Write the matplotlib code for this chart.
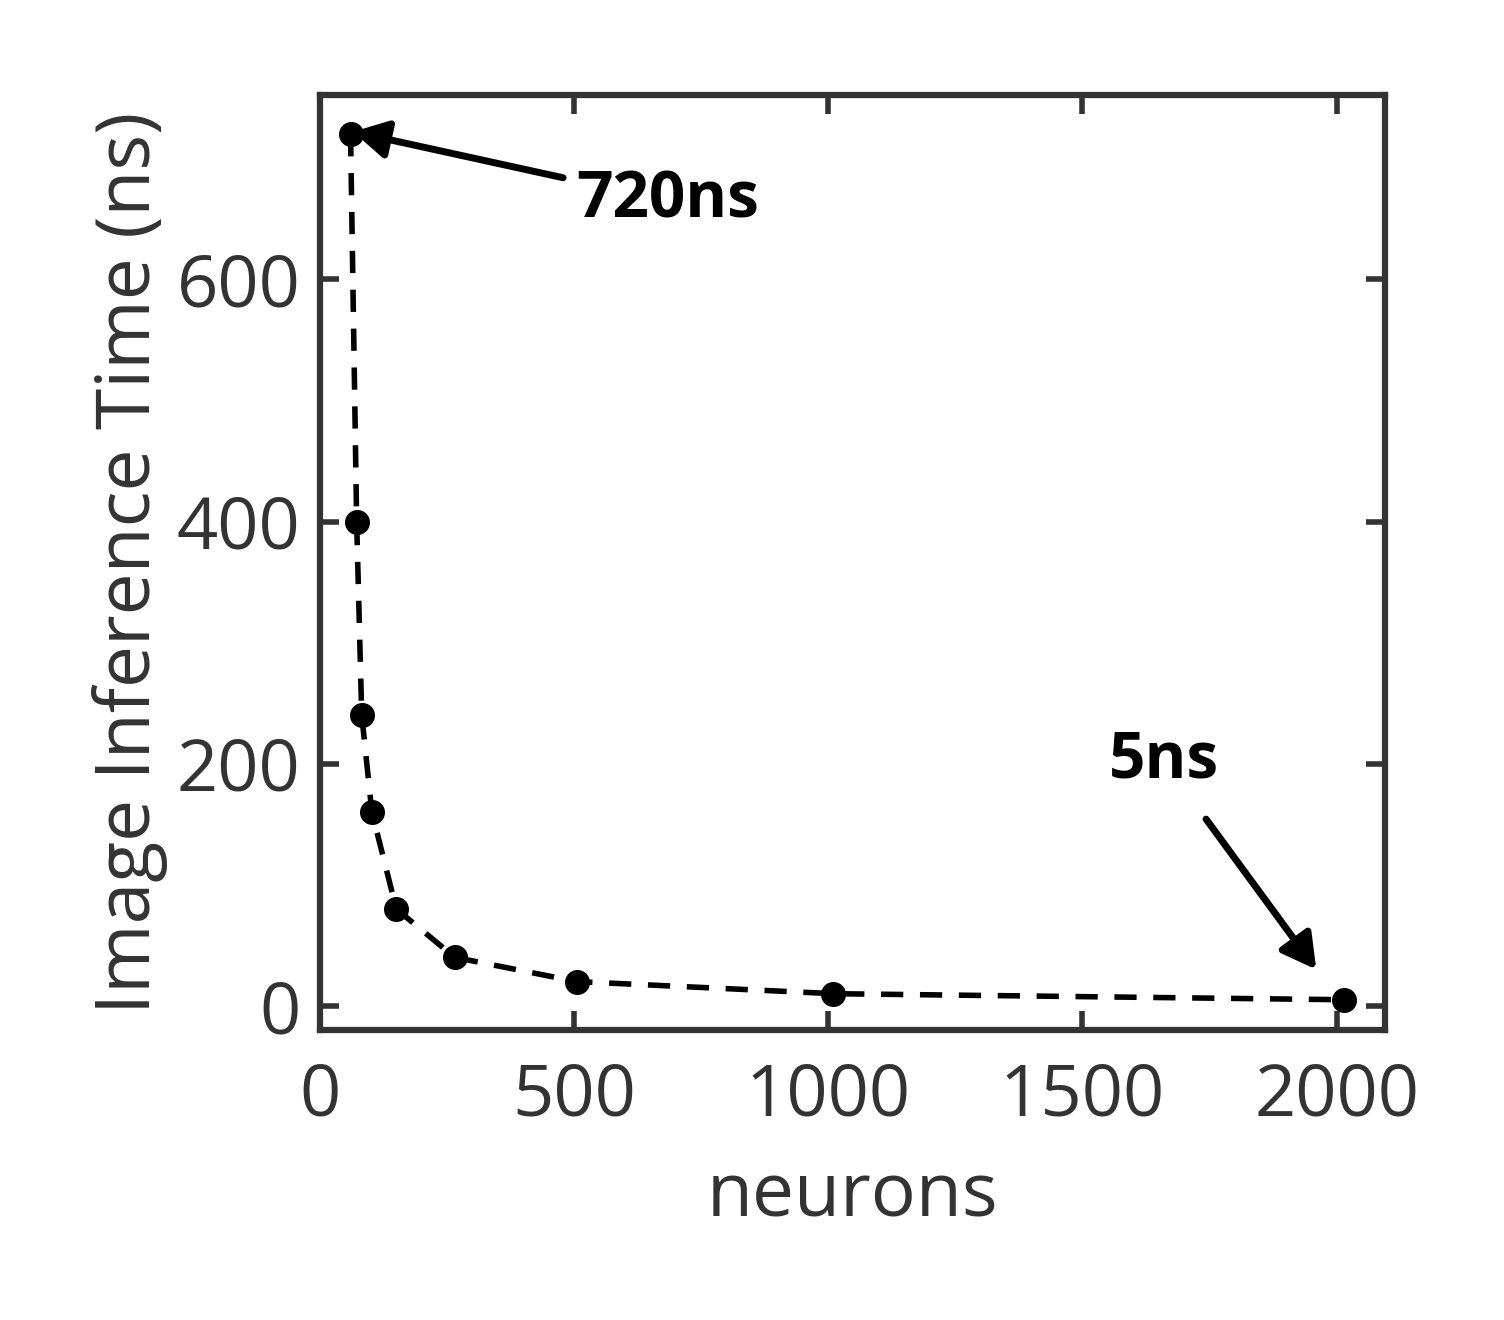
import matplotlib
matplotlib.use("Agg")
import matplotlib.pyplot as plt

neurons = [60, 72, 82, 102, 150, 265, 505, 1010, 2015]
times = [720, 400, 240, 160, 80, 40, 20, 10, 5]
xticks = [0, 500, 1000, 1500, 2000]
yticks = [0, 200, 400, 600]

plt.rcParams['font.family'] = ['Open Sans', 'DejaVu Sans']
fig = plt.figure(figsize=(15.04, 13.2), dpi=100)
ax = fig.add_axes([0.2128, 0.2197, 0.708, 0.708])
ax.plot(neurons, times, 'k--', lw=4, dashes=(4, 3), marker='o', ms=17)
ax.set_xlim(0, 2095)
ax.set_ylim(-20, 752)
ax.set_xticks(xticks)
ax.set_yticks(yticks)
for s in ax.spines.values():
    s.set_linewidth(4.5)
    s.set_color('#333333')
ax.tick_params(direction='in', length=14, width=4, top=True, right=True,
               labelsize=52, colors='#333333')
ax.tick_params(axis='x', pad=22)
ax.tick_params(axis='y', pad=14)
ax.set_xlabel('neurons', fontsize=54, color='#333333', labelpad=20)
ax.set_ylabel('Image Inference Time (ns)', fontsize=54, color='#333333', labelpad=6)
ax.annotate('720ns', xy=(65, 722), xytext=(505, 665), fontsize=46, fontweight='bold',
            va='center', ha='left',
            arrowprops=dict(arrowstyle='-|>,head_length=0.45,head_width=0.25', lw=5, color='k', shrinkA=8, shrinkB=0))
ax.annotate('5ns', xy=(1960, 30), xytext=(1660, 175), fontsize=46, fontweight='bold',
            va='bottom', ha='center',
            arrowprops=dict(arrowstyle='-|>,head_length=0.45,head_width=0.25', lw=5, color='k', shrinkA=20, shrinkB=0))
fig.savefig('out.png')
